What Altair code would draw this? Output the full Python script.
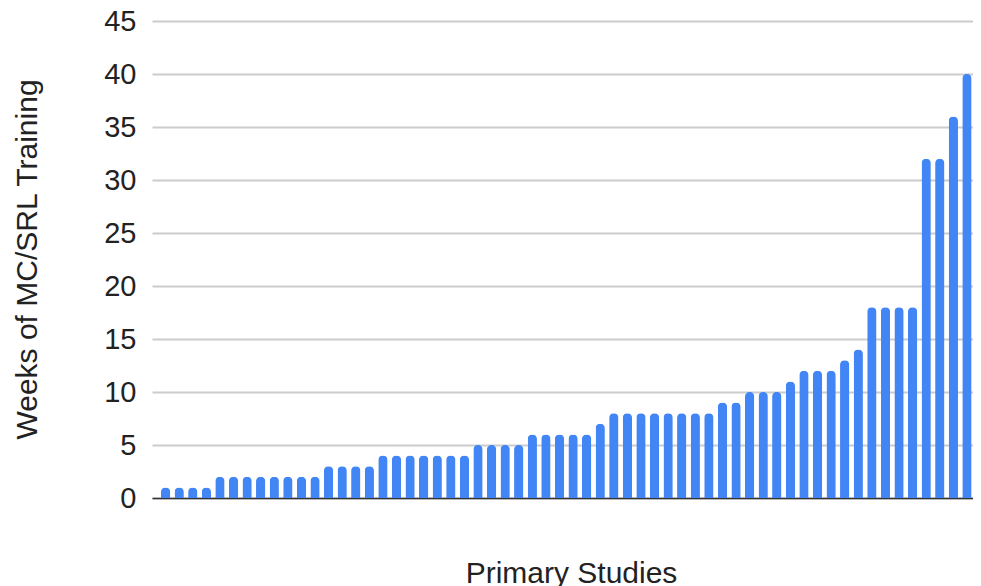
import altair as alt
import pandas as pd

studies = list(range(1, 61))
weeks = [1, 1, 1, 1,
         2, 2, 2, 2, 2, 2, 2, 2,
         3, 3, 3, 3,
         4, 4, 4, 4, 4, 4, 4,
         5, 5, 5, 5,
         6, 6, 6, 6, 6,
         7,
         8, 8, 8, 8, 8, 8, 8, 8,
         9, 9,
         10, 10, 10,
         11,
         12, 12, 12,
         13,
         14,
         18, 18, 18, 18,
         32, 32,
         36,
         40]
y_ticks = [0, 5, 10, 15, 20, 25, 30, 35, 40, 45]

df = pd.DataFrame({"study": studies, "weeks": weeks})

FONT = "Liberation Sans"

chart = alt.Chart(df).mark_bar(
    color="#4285F4",
    width=9.3,
    cornerRadiusTopLeft=4.6,
    cornerRadiusTopRight=4.6,
).encode(
    x=alt.X(
        "study:Q",
        scale=alt.Scale(domain=[0.367, 60.08], nice=False, zero=False),
        axis=alt.Axis(
            title="Primary Studies",
            labels=False,
            ticks=False,
            grid=False,
            domain=True,
            domainColor="#333333",
            domainWidth=1.5,
            titleFont=FONT,
            titleFontSize=30,
            titleFontWeight="normal",
            titleColor="#222222",
            titleBaseline="alphabetic",
            titleX=419,
            titleY=84,
        ),
    ),
    y=alt.Y(
        "weeks:Q",
        scale=alt.Scale(domain=[0, 45], nice=False),
        axis=alt.Axis(
            title="Weeks of MC/SRL Training",
            values=y_ticks,
            ticks=False,
            tickSize=0,
            domain=False,
            grid=True,
            gridColor="#cccccc",
            gridWidth=2,
            labelFont=FONT,
            labelFontSize=29,
            labelColor="#222222",
            labelPadding=16,
            titleFont=FONT,
            titleFontSize=30,
            titleFontWeight="normal",
            titleColor="#222222",
            titleAngle=270,
            titleBaseline="alphabetic",
            titleAlign="center",
            titleX=-116,
            titleY=238,
        ),
    ),
).properties(
    width=821,
    height=477,
    autosize=alt.AutoSizeParams(type="none"),
    padding={"left": 144, "top": 13, "right": 0, "bottom": 92},
    background="white",
).configure_view(stroke=None)

chart.save("out.html", embed_options={"renderer": "svg", "actions": False})
